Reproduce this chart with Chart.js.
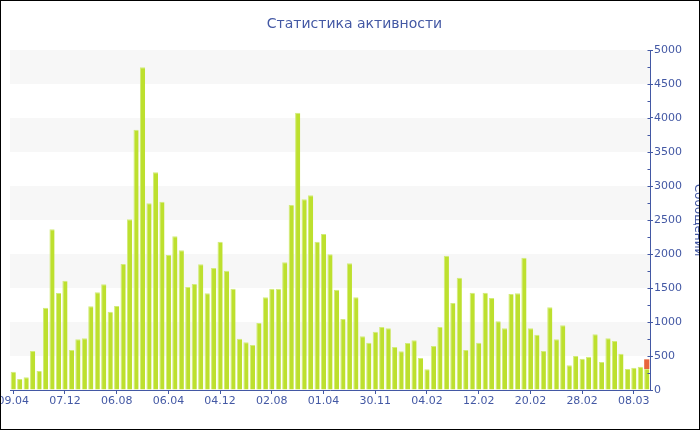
<!DOCTYPE html>
<html><head><meta charset="utf-8">
<script src="https://cdn.jsdelivr.net/npm/chart.js@4/dist/chart.umd.min.js"></script>
<style>
html,body{margin:0;padding:0;background:#fff;}
#wrap{width:700px;height:430px;box-sizing:border-box;border:1px solid #000;}
canvas{display:block;}
</style></head><body>
<div id="wrap"><canvas id="c" width="698" height="428"></canvas></div>
<script>
const tickLabels = ['09.04','07.12','06.08','06.04','04.12','02.08','01.04','30.11','04.02','12.02','20.02','28.02','08.03'];
const tickEvery = 8;
const messages = [
  270,162,186,574,279,1211,2363,1426,1608,588,
  745,760,1230,1436,1554,1152,1235,1853,2510,3828,
  4745,2745,3201,2770,1985,2260,2054,1515,1559,1848,
  1422,1794,2181,1755,1490,755,701,662,985,1363,
  1490,1490,1878,2721,4078,2804,2863,2181,2294,1995,
  1475,1044,1863,1363,789,696,858,926,907,632,
  569,691,730,471,304,647,926,1975,1279,1652,
  588,1431,696,1431,1353,1010,907,1412,1422,1946,
  907,814,574,1216,745,951,363,500,461,490,
  819,412,760,721,534,309,328,343,309
];
const currentExtra = 142;
const yMax = 5000;
const yStep = 500;

const categories = messages.map((_, i) => i);
const extraData = messages.map((_, i) => i === messages.length - 1 ? currentExtra : null);

const BLUE = '#4358a4';
const FONT = 'DejaVu Sans';

const decor = {
  id: 'decor',
  beforeDatasetsDraw(chart) {
    const {ctx, chartArea, scales: {y}} = chart;
    ctx.save();
    ctx.fillStyle = '#f7f7f7';
    for (let v = yStep; v < yMax; v += 2 * yStep) {
      const top = y.getPixelForValue(v + yStep);
      const bot = y.getPixelForValue(v);
      ctx.fillRect(chartArea.left, top, chartArea.right - chartArea.left, bot - top);
    }
    ctx.restore();
  },
  afterDraw(chart) {
    const {ctx, scales: {y}} = chart;
    const x0 = Math.round(y.left) + 0.5;
    ctx.save();
    ctx.strokeStyle = BLUE;
    ctx.lineWidth = 1;
    ctx.beginPath();
    for (let v = 0; v <= yMax; v += yStep / 2) {
      const py = Math.round(y.getPixelForValue(v)) + 0.5;
      ctx.moveTo(x0 - 3, py);
      ctx.lineTo(x0, py);
    }
    ctx.stroke();
    ctx.restore();
  }
};

new Chart(document.getElementById('c'), {
  type: 'bar',
  data: {
    labels: categories,
    datasets: [
      {
        data: messages,
        backgroundColor: '#bde02e',
        borderColor: '#d2ec7a',
        borderWidth: {left: 1, top: 1, right: 0, bottom: 0},
        borderSkipped: 'start',
        barPercentage: 0.8,
        categoryPercentage: 1.0,
        stack: 's'
      },
      {
        data: extraData,
        backgroundColor: '#e8643c',
        borderWidth: 0,
        barPercentage: 0.8,
        categoryPercentage: 1.0,
        stack: 's'
      }
    ]
  },
  options: {
    responsive: false,
    animation: false,
    layout: {padding: {left: 9, right: 0, top: 0, bottom: 0}},
    plugins: {
      legend: {display: false},
      tooltip: {enabled: false},
      title: {
        display: true,
        text: 'Статистика активности',
        color: BLUE,
        font: {family: FONT, size: 14, weight: 'normal'},
        padding: {top: 14.6, bottom: 17.6}
      }
    },
    scales: {
      x: {
        stacked: true,
        offset: true,
        grid: {display: true, drawOnChartArea: false, drawTicks: true, tickLength: 4, offset: false, color: BLUE},
        border: {display: true, color: BLUE, width: 1},
        ticks: {
          autoSkip: false, maxRotation: 0, minRotation: 0, padding: 1,
          color: BLUE, font: {family: FONT, size: 11},
          callback: (v, i) => (i % tickEvery === 0 ? tickLabels[i / tickEvery] : null)
        },
        afterFit(s) { s.paddingLeft = 0; s.paddingRight = 0; s.height = 39; }
      },
      y: {
        position: 'right',
        stacked: true,
        min: 0, max: yMax,
        grid: {display: true, drawOnChartArea: false, drawTicks: true, tickLength: 3, color: BLUE},
        border: {display: true, color: BLUE, width: 1},
        ticks: {stepSize: yStep, padding: 1, color: BLUE, font: {family: FONT, size: 11}, callback: (v) => String(v)},
        title: {display: true, text: 'Сообщений', color: BLUE, font: {family: FONT, size: 12}, padding: {top: -6, bottom: 0}},
        afterFit(s) { s.width = 49; }
      }
    }
  },
  plugins: [decor]
});
</script>
</body></html>
